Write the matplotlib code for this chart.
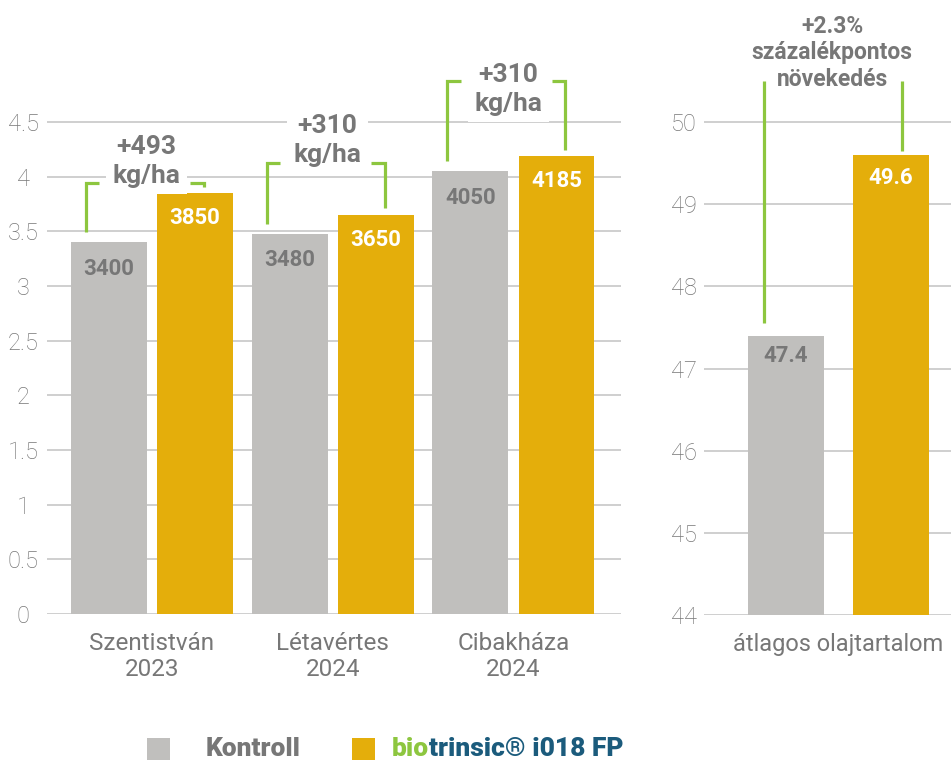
import matplotlib
matplotlib.use("Agg")
import matplotlib.pyplot as plt
from matplotlib.patches import Rectangle
import numpy as np

plt.rcParams["font.family"] = ["Roboto", "DejaVu Sans"]

# --- data -------------------------------------------------------------
sites = ["Szentistván\n2023", "Létavértes\n2024", "Cibakháza\n2024"]
kontroll = [3400, 3480, 4050]          # kg/ha
biotrinsic = [3850, 3650, 4185]        # kg/ha
gain_labels = ["+493\nkg/ha", "+310\nkg/ha", "+310\nkg/ha"]
yield_ticks = [0, 0.5, 1, 1.5, 2, 2.5, 3, 3.5, 4, 4.5]

oil_label = ["átlagos olajtartalom"]
oil_kontroll = [47.4]
oil_biotrinsic = [49.6]
oil_gain = "+2.3%\nszázalékpontos\nnövekedés"
oil_ticks = [44, 45, 46, 47, 48, 49, 50]

# --- style ------------------------------------------------------------
GRAY = "#c0bfbd"
GOLD = "#e4ae0b"
GREEN = "#8dc63f"
TXT = "#777777"
GRID = "#cccccc"
BLUE = "#1b5b7c"

# annotation layout (per group, in axis units)
bracket_y = [3.94, 4.125, 4.875]
label_y = [4.14, 4.33, 4.80]

fig = plt.figure(figsize=(9.51, 7.6), dpi=100)
W, H = 951, 760

def px_axes(x0, x1, y_bottom):
    return fig.add_axes([x0 / W, 1 - y_bottom / H, (x1 - x0) / W, y_bottom / H])

def style(ax, ticks, pad, xsize):
    for s in ax.spines.values():
        s.set_visible(False)
    ax.set_yticks(ticks)
    ax.set_yticklabels([f"{t:g}" for t in ticks], ha="center")
    ax.tick_params(axis="y", length=0, pad=pad, labelsize=17, labelcolor=TXT)
    ax.tick_params(axis="x", length=0, pad=13, labelsize=xsize, labelcolor=TXT)
    ax.grid(axis="y", color=GRID, lw=1.3)
    ax.set_axisbelow(True)
    for t in ax.get_yticklabels():
        t.set_fontweight("light")

# --- left panel: yield ------------------------------------------------
ax = px_axes(47, 621, 614)
x = np.arange(len(sites))
bw, off = 0.42, 0.238
k = np.array(kontroll) / 1000
b = np.array(biotrinsic) / 1000
ax.bar(x - off, k, bw, color=GRAY)
ax.bar(x + off, b, bw, color=GOLD)
ax.set_xlim(-0.581, 2.595)
ax.set_ylim(0, 5.616)
ax.set_xticks(x)
ax.set_xticklabels(sites, linespacing=1.15)
style(ax, yield_ticks, 17, 17.5)

for i in range(len(sites)):
    ax.annotate(f"{kontroll[i]}", (x[i] - off, k[i]), xytext=(0, -19),
                textcoords="offset points", ha="center", va="center",
                fontsize=16, fontweight="bold", color=TXT)
    ax.annotate(f"{biotrinsic[i]}", (x[i] + off, b[i]), xytext=(0, -18),
                textcoords="offset points", ha="center", va="center",
                fontsize=16, fontweight="bold", color="white")
    xl, xr, yt = x[i] - 0.366, x[i] + 0.287, bracket_y[i]
    arm = 0.075
    ax.plot([xl + arm, xl, xl], [yt, yt, k[i] + 0.09], color=GREEN, lw=2.3,
            solid_capstyle="butt", solid_joinstyle="miter", zorder=3)
    ax.plot([xr - arm, xr, xr], [yt, yt, b[i] + 0.06], color=GREEN, lw=2.3,
            solid_capstyle="butt", solid_joinstyle="miter", zorder=3)
    ax.text(x[i] - 0.03, label_y[i], gain_labels[i], ha="center", va="center",
            fontsize=19, fontweight="bold", color=TXT, linespacing=1.25,
            bbox=dict(boxstyle="square,pad=0.25", fc="white", ec="none"), zorder=4)

# --- right panel: oil content -----------------------------------------
ax2 = px_axes(704, 951, 615)
xo = np.arange(len(oil_label))
ax2.bar(xo - 0.525, oil_kontroll, 0.76, color=GRAY)
ax2.bar(xo + 0.525, oil_biotrinsic, 0.76, color=GOLD)
ax2.set_xlim(-1.345, 1.125)
ax2.set_ylim(44, 51.485)
ax2.set_xticks(xo)
ax2.set_xticklabels(oil_label)
style(ax2, oil_ticks, 14.5, 17)

ax2.annotate(f"{oil_kontroll[0]}", (xo[0] - 0.525, oil_kontroll[0]), xytext=(0, -15),
             textcoords="offset points", ha="center", va="center",
             fontsize=16, fontweight="bold", color=TXT)
ax2.annotate(f"{oil_biotrinsic[0]}", (xo[0] + 0.525, oil_biotrinsic[0]), xytext=(0, -17),
             textcoords="offset points", ha="center", va="center",
             fontsize=16, fontweight="bold", color="white")
ax2.plot([-0.745, -0.745], [50.50, oil_kontroll[0] + 0.15], color=GREEN, lw=2.3,
         solid_capstyle="butt")
ax2.plot([0.635, 0.635], [50.50, oil_biotrinsic[0] + 0.05], color=GREEN, lw=2.3,
         solid_capstyle="butt")
ax2.text(-0.065, 50.84, oil_gain, ha="center", va="center", fontsize=16.5,
         fontweight="bold", color=TXT, linespacing=1.2)

# --- legend -----------------------------------------------------------
sq = 23
for x0, c in [(147, GRAY), (352, GOLD)]:
    fig.add_artist(Rectangle((x0 / W, 1 - (738 + sq) / H), sq / W, sq / H,
                             transform=fig.transFigure, color=c, lw=0))
fig.text(206 / W, 1 - 749 / H, "Kontroll", ha="left", va="center",
         fontsize=19, fontweight="heavy", color=TXT)
t_bio = fig.text(392 / W, 1 - 749 / H, "bio", ha="left", va="center",
                 fontsize=19, fontweight="heavy", color=GREEN)
ax.annotate("trinsic® i018 FP", xy=(1, 0.5), xycoords=t_bio, ha="left", va="center",
            fontsize=19, fontweight="heavy", color=BLUE, annotation_clip=False)

fig.savefig("out.png", dpi=100)
